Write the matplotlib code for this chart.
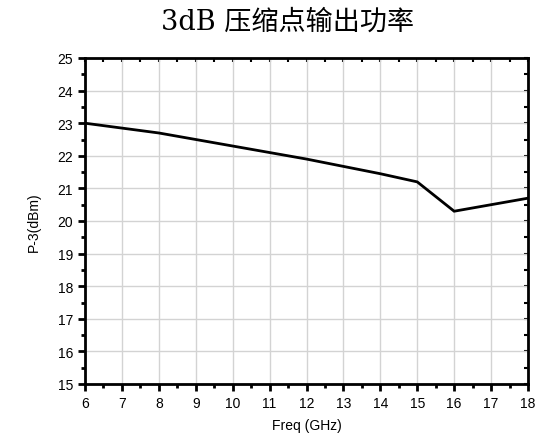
import matplotlib
matplotlib.use("Agg")
import matplotlib.pyplot as plt
from matplotlib.ticker import MultipleLocator

freq = [6, 8, 10, 12, 14, 15, 16, 18]
p3 = [23.0, 22.7, 22.3, 21.9, 21.45, 21.2, 20.3, 20.7]
xticks = list(range(6, 19))
yticks = list(range(15, 26))

plt.rcParams['font.family'] = ['Liberation Sans', 'DejaVu Sans']

fig = plt.figure(figsize=(5.46, 4.39), dpi=100)
ax = fig.add_axes([85/546, 1-385/439, (528-85)/546, (385-59)/439])

ax.plot(freq, p3, color='black', lw=2.0, solid_joinstyle='miter', zorder=3)
ax.set_xlim(6, 18)
ax.set_ylim(15, 25)
ax.set_xticks(xticks)
ax.set_yticks(yticks)
ax.xaxis.set_minor_locator(MultipleLocator(0.5))
ax.yaxis.set_minor_locator(MultipleLocator(0.5))
ax.grid(True, which='major', color='#d3d3d3', lw=1.0, zorder=0)
for s in ax.spines.values():
    s.set_linewidth(2.0)
ax.tick_params(which='major', direction='out', length=5, width=2, labelsize=10,
               top=False, right=False)
ax.tick_params(which='minor', direction='out', length=3, width=2, top=False, right=False)

# inward mirror ticks on top/right
axt = ax.secondary_xaxis('top')
axt.set_xticks(xticks)
axt.xaxis.set_minor_locator(MultipleLocator(0.5))
axt.tick_params(which='both', direction='in', length=3, width=1.5, labeltop=False)
axr = ax.secondary_yaxis('right')
axr.set_yticks(yticks)
axr.yaxis.set_minor_locator(MultipleLocator(0.5))
axr.tick_params(which='both', direction='in', length=3, width=1.5, labelright=False)

ax.set_xlabel('Freq (GHz)', fontsize=10, labelpad=6)
ax.set_ylabel('P-3(dBm)', fontsize=10, labelpad=12)

fig.text(288/546, 1-22/439, '3dB 压缩点输出功率', ha='center', va='center',
         fontsize=19.5, fontweight='light', family=['DejaVu Serif', 'Noto Sans CJK SC'])

fig.savefig('out.png', dpi=100)
